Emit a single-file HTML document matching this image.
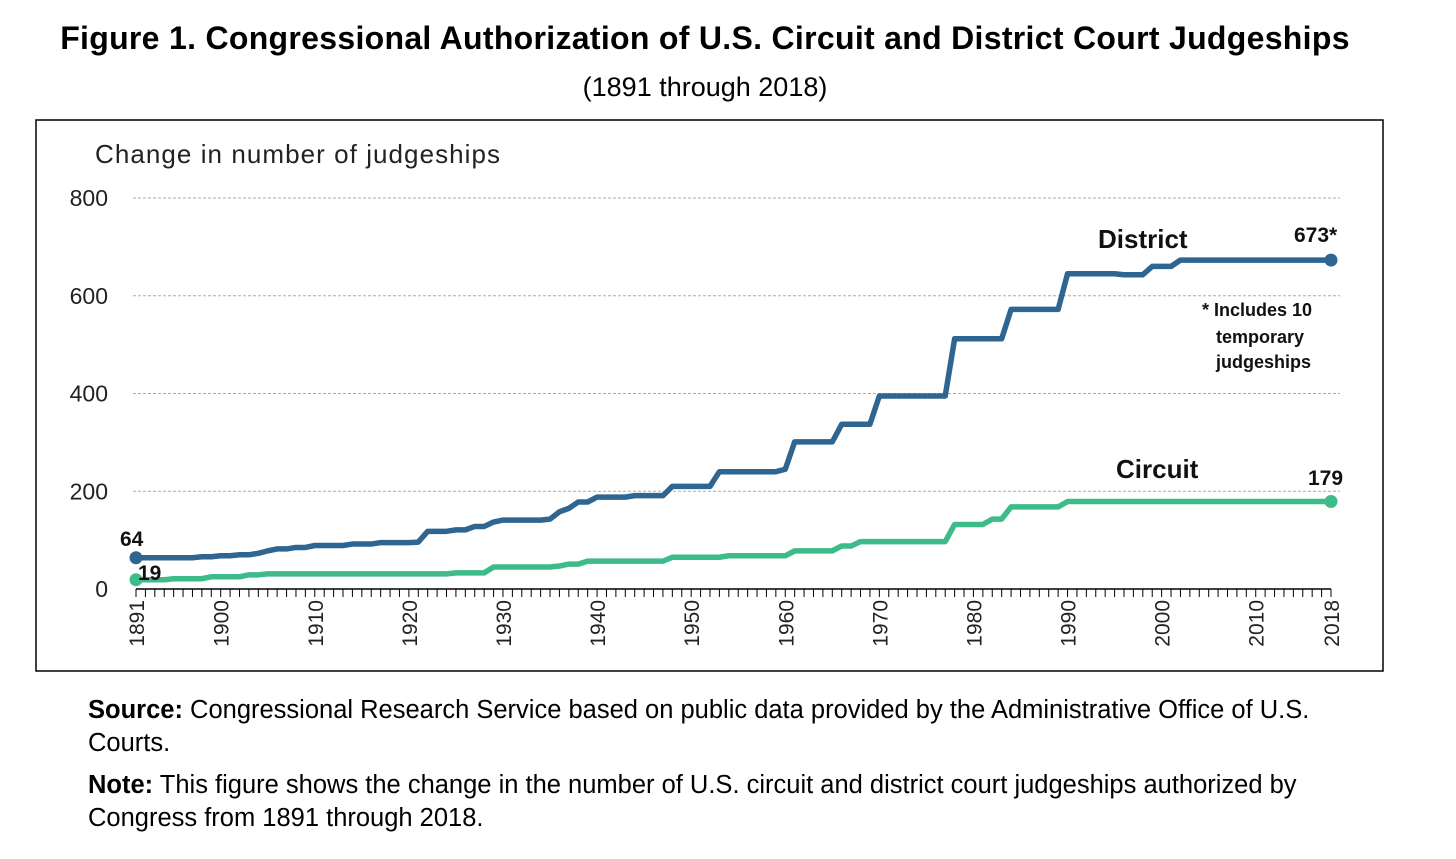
<!DOCTYPE html>
<html><head><meta charset="utf-8"><style>
body{margin:0;background:#fff;width:1456px;height:859px;overflow:hidden;font-family:"Liberation Sans",sans-serif;}
.t{position:absolute;left:0;width:1410px;text-align:center;color:#000}
.f{position:absolute;left:88px;font-size:25.5px;color:#000;line-height:33px;white-space:nowrap}
</style></head><body>
<div class="t" style="top:20px;font-size:32px;font-weight:bold;letter-spacing:0.3px;">Figure 1. Congressional Authorization of U.S. Circuit and District Court Judgeships</div>
<div class="t" style="top:72px;font-size:27px;">(1891 through 2018)</div>
<svg width="1456" height="859" style="position:absolute;left:0;top:0">
<rect x="36" y="120" width="1347" height="551" fill="none" stroke="#000" stroke-width="1.5"/>
<text x="95" y="163" font-size="26" fill="#222" textLength="405">Change in number of judgeships</text>
<g id="grid"></g><g id="axes"></g><g id="lines"></g>
<text x="1098" y="248" font-size="26" font-weight="bold" fill="#111">District</text>
<text x="1116" y="478" font-size="26" font-weight="bold" fill="#111">Circuit</text>
<text x="1294" y="242" font-size="21" font-weight="bold" fill="#111">673*</text>
<text x="1308" y="485" font-size="21" font-weight="bold" fill="#111">179</text>
<text x="120" y="546" font-size="21" font-weight="bold" fill="#111">64</text>
<text x="138" y="580" font-size="21" font-weight="bold" fill="#111">19</text>
<g font-size="18" fill="#111" font-weight="bold">
<text x="1202" y="316">* Includes 10</text><text x="1216" y="343">temporary</text><text x="1216" y="368">judgeships</text></g>
</svg>
<div class="f" style="top:694px;"><b>Source:</b> Congressional Research Service based on public data provided by the Administrative Office of U.S.<br>Courts.</div>
<div class="f" style="top:769px;"><b>Note:</b> This figure shows the change in the number of U.S. circuit and district court judgeships authorized by<br>Congress from 1891 through 2018.</div>
<script>
const yTicks=[0,200,400,600,800];
const xLabels=[1891,1900,1910,1920,1930,1940,1950,1960,1970,1980,1990,2000,2010,2018];
const districtYears=[1891,1897,1898,1900,1902,1904,1905,1906,1908,1910,1914,1917,1921,1922,1925,1927,1929,1930,1935,1936,1937,1938,1940,1944,1948,1953,1960,1961,1966,1970,1978,1984,1990,1996,1999,2002,2018];
const districtVals=[64,64,66,68,70,73,78,82,85,89,92,95,96,118,121,128,137,141,143,158,165,178,188,191,210,240,245,301,337,395,512,572,645,643,660,673,673];
const circuitYears=[1891,1895,1899,1903,1905,1925,1929,1936,1937,1939,1948,1954,1961,1966,1968,1978,1982,1984,1990,2018];
const circuitVals=[19,21,25,29,31,33,45,47,51,57,65,68,78,88,97,132,143,168,179,179];
const NS="http://www.w3.org/2000/svg";
const X=yr=>136+(yr-1891)*(1195/127);
const Y=v=>589-v*(391/800);
function mk(tag,attrs,parent){const e=document.createElementNS(NS,tag);for(const k in attrs)e.setAttribute(k,attrs[k]);parent.appendChild(e);return e;}
const grid=document.getElementById('grid'),axes=document.getElementById('axes'),lines=document.getElementById('lines');
yTicks.forEach(v=>{
 if(v>0){const g=mk('line',{x1:133,x2:1340,y1:Y(v),y2:Y(v),stroke:'#aaa','stroke-dasharray':'3,2','stroke-width':1},grid);
 
 }
 const t=mk('text',{x:108,y:Y(v)+8,'font-size':23,'text-anchor':'end',fill:'#222'},axes);t.textContent=v;
 
 
});
const ax=mk('line',{x1:X(1891),x2:X(2018),y1:589,y2:589,stroke:'#000','stroke-width':1.5},axes);


for(let yr=1891;yr<=2018;yr++){const tk=mk('line',{x1:X(yr),x2:X(yr),y1:589,y2:597,stroke:'#000','stroke-width':1},axes);
 
 }
xLabels.forEach(yr=>{const x=X(yr)+8;const t=mk('text',{x:x,y:600,'font-size':21,'text-anchor':'end',fill:'#222',transform:`rotate(-90 ${x} 600)`},axes);t.textContent=yr;
 
 });
function series(years,vals,color,name){
 const pts=[];
 years.forEach((y,i)=>{
  if(i>0 && y-1>years[i-1]) pts.push(X(y-1)+','+Y(vals[i-1]));
  pts.push(X(y)+','+Y(vals[i]));
 });
 const p=mk('polyline',{points:pts.join(' '),fill:'none',stroke:color,'stroke-width':5.5,'stroke-linejoin':'round'},lines);
 
 
 [0,years.length-1].forEach(i=>{const c=mk('circle',{cx:X(years[i]),cy:Y(vals[i]),r:6.5,fill:color},lines);
 
 });
}
series(circuitYears,circuitVals,'#3dbb8a','circuit');
series(districtYears,districtVals,'#2e6591','district');
</script>
</body></html>
